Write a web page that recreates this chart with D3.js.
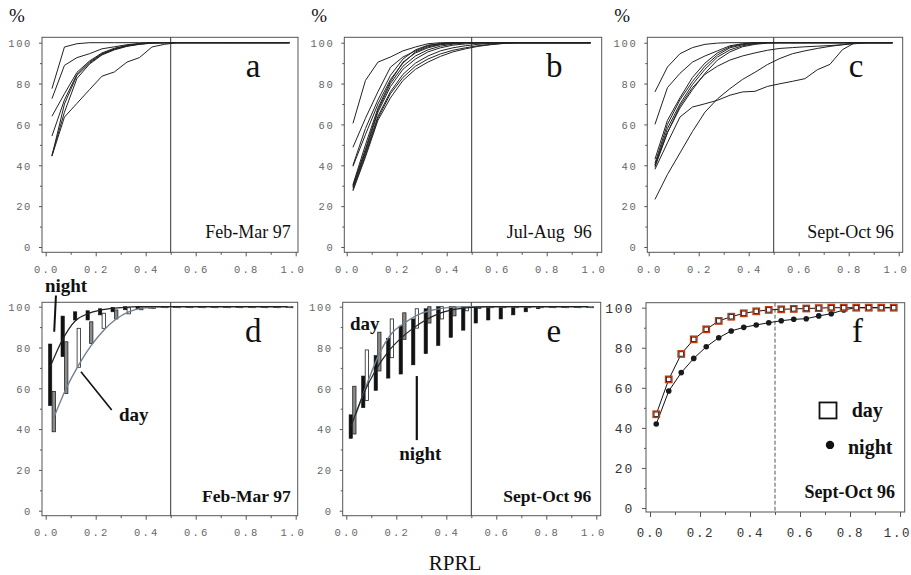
<!DOCTYPE html>
<html><head><meta charset="utf-8">
<script src="https://cdn.jsdelivr.net/npm/d3@7"></script>
<style>body{margin:0;background:#fff}svg{display:block}</style>
</head><body>
<svg id="chart" width="911" height="575"></svg>
<script>
// ---------- data ----------
const bins = [0.025,0.075,0.125,0.175,0.225,0.275,0.325,0.375,0.425,0.475,0.525,0.575,0.625,0.675,0.725,0.775,0.825,0.875,0.925,0.975];
const xTicks = [0,0.2,0.4,0.6,0.8,1.0];
const xMinor = [0.1,0.3,0.5,0.7,0.9];
const yTicks = [0,20,40,60,80,100];
const yMinor = [10,30,50,70,90];

const curvesA = [
 [77.5,97.9,99.5,100,100,100,100,100,100,100,100,100,100,100,100,100,100,100,100,100],
 [72.6,88.9,92.7,94.6,97,98,99,99.6,100,100,100,100,100,100,100,100,100,100,100,100],
 [64,75,85.5,91,95,97.3,98.7,99.5,100,100,100,100,100,100,100,100,100,100,100,100],
 [54.3,72,84.5,90.5,94.6,97,98.5,99.4,100,100,100,100,100,100,100,100,100,100,100,100],
 [44.5,70,84,90,94.3,96.8,98.4,99.3,99.8,100,100,100,100,100,100,100,100,100,100,100],
 [44.5,63.6,70.3,77,83.6,85.7,90.5,92.7,97.9,99.2,100,100,100,100,100,100,100,100,100,100],
 [45,66,82.5,89.5,94,96.5,98.2,99.2,99.8,100,100,100,100,100,100,100,100,100,100,100]
];
const curvesB = [
 [60.5,81.5,90.5,93,96,97.9,99.5,100,100,100,100,100,100,100,100,100,100,100,100,100],
 [48.8,63,76,88,93,96,98.5,99.5,100,100,100,100,100,100,100,100,100,100,100,100],
 [40,58,72,84,92,96.5,98.8,99.6,100,100,100,100,100,100,100,100,100,100,100,100],
 [39.5,55,70,82,90,95.5,98,99.2,99.8,100,100,100,100,100,100,100,100,100,100,100],
 [30.5,50,68,81,90.5,95,97.5,99,99.6,100,100,100,100,100,100,100,100,100,100,100],
 [29.5,47,66,78.5,87,92,95.5,97.5,98.8,99.4,99.8,100,100,100,100,100,100,100,100,100],
 [29,46,64,76,84.5,90,93.5,96,97.5,98.5,99.2,99.7,100,100,100,100,100,100,100,100],
 [28,45,63,75,83,88.5,92,94.5,96.3,97.5,98.5,99.2,99.7,100,100,100,100,100,100,100],
 [27.5,44,62,73,81.5,87,90.5,93.3,95.5,97,98.2,99,99.6,100,100,100,100,100,100,100],
 [30,48,67,80,88.5,93.5,96.5,98.3,99.3,100,100,100,100,100,100,100,100,100,100,100]
];
const curvesC = [
 [75.9,88.1,94.6,97.6,99.2,99.8,100,100,100,100,100,100,100,100,100,100,100,100,100,100],
 [60,78,85,90.5,93.5,96,98.5,99.5,100,100,100,100,100,100,100,100,100,100,100,100],
 [43,62,73,83,90,95,98,99.3,100,100,100,100,100,100,100,100,100,100,100,100],
 [41,60,72,81,88.5,94,97.5,99,99.7,100,100,100,100,100,100,100,100,100,100,100],
 [40,58,70,79.5,87,93,96.5,98.5,99.5,100,100,100,100,100,100,100,100,100,100,100],
 [39,56,68,77,85,91.5,95.5,98,99.2,99.8,100,100,100,100,100,100,100,100,100,100],
 [40,56,69,78,84.5,88.5,91.5,93.5,95,96.3,97.2,97.6,98,98.3,98.6,99,99.5,100,100,100],
 [38,51,63.6,68.5,70.1,71.8,74.3,75.9,76.2,78.6,79.9,81.1,82.4,86.8,89.4,96.6,100,100,100,100],
 [23.3,35.5,46,56.5,66,72.5,77.5,82,85.5,89.3,92.3,94.6,96,97.2,98.2,99,100,100,100,100]
];

// panel d : boxes (low/high) and mean curves
const nightD_low  = [51.5,75.5,93.5,93.5,96,97.5,98.5,99,99.3,99.6,99.6,99.6,99.6,99.6,99.6,99.6,99.6,99.6,99.6,99.6];
const nightD_high = [81.7,95.4,97.5,98,99,99.7,100,100,100,100,100,100,100,100,100,100,100,100,100,100];
const dayD_low    = [38.7,57.5,70.3,82,89.4,94,96.5,98.5,99.2,99.6,99.6,99.6,99.6,99.6,99.6,99.6,99.6,99.6,99.6,99.6];
const dayD_high   = [58.5,82.8,89.4,92.6,96.8,98.4,99.5,100,100,100,100,100,100,100,100,100,100,100,100,100];
const nightD_mean = [70.5,84,93,96.5,98.3,99.2,99.7,100,100,100,100,100,100,100,100,100,100,100,100,100];
const dayD_mean   = [45.5,60,71.5,81,88.5,94,97.5,99.2,99.8,100,100,100,100,100,100,100,100,100,100,100];

// panel e
const nightE_low  = [35.5,50.5,59,65,67,71.5,77,81,85,88.5,92,93.5,94,96,97.5,99,99.5,99.6,99.6,99.6];
const nightE_high = [47,66,76,84.5,90.5,94,99,100,100,100,99.8,99.8,99.8,100,100,100,100,100,100,100];
const dayE_low    = [37.6,54,68.5,75,84,89.5,92,94,95.5,98,99.2,99.5,99.6,99.6,99.6,99.6,99.6,99.6,99.6,99.6];
const dayE_high   = [61,78.8,87.5,94,97,99,100,100,100,100,100,100,100,100,100,100,100,100,100,100];
const nightE_mean = [41,57,69,78,84.5,89.5,93.5,96.5,98.3,99.3,99.8,100,100,100,100,100,100,100,100,100];
const dayE_mean   = [45,62,77,87,92,95.8,98,99.2,99.8,100,100,100,100,100,100,100,100,100,100,100];

// panel f
const dayF   = [46.8,64.2,76.9,84.2,89.2,93.4,95.5,97.2,98.2,98.9,99.2,99.4,99.6,99.8,100,100,100,100,100,100];
const nightF = [41.9,58.4,67.6,74.7,80.5,85,88.4,90.2,91.4,92.5,93.5,94.2,94.5,95.9,97,98.9,100,100,100,100];

const letters = ["a","b","c","d","e","f"];
const periods = ["Feb-Mar 97","Jul-Aug\u00a0\u00a096","Sept-Oct 96","Feb-Mar 97","Sept-Oct 96","Sept-Oct 96"];

// ---------- styles / layout ----------
const dayFillD = ["#8a8a8a","#8a8a8a","#fff","#8a8a8a","#fff","#8a8a8a","#fff","#8a8a8a","#fff","#8a8a8a","#fff","#8a8a8a","#fff","#8a8a8a","#fff","#8a8a8a","#fff","#8a8a8a","#fff","#8a8a8a"];
const dayFillE = ["#8a8a8a","#fff","#8a8a8a","#fff","#8a8a8a","#fff","#8a8a8a","#fff","#8a8a8a","#fff","#8a8a8a","#fff","#8a8a8a","#fff","#8a8a8a","#fff","#8a8a8a","#fff","#8a8a8a","#fff"];
const P = {
 a:{L:42,R:298,T:37.3,B:252.3,x0:45.7,x1:295.7,y0:247,y100:42.7},
 b:{L:344.3,R:601.7,T:37.3,B:252.3,x0:346.7,x1:596.7,y0:247,y100:42.7},
 c:{L:647.3,R:902.7,T:37.3,B:252.3,x0:648.7,x1:898.7,y0:247,y100:42.7},
 d:{L:42,R:297.7,T:302.3,B:515.7,x0:45.7,x1:295.7,y0:510.7,y100:306.7},
 e:{L:342.7,R:600.7,T:302.3,B:515.7,x0:346.3,x1:596.3,y0:510.7,y100:306.7},
 f:{L:646,R:904.7,T:302.7,B:512,x0:650,x1:900,y0:508,y100:307.7}
};

const svg = d3.select("#chart");
const serif = "'Liberation Serif','Times New Roman',serif";
const mono = "'Liberation Mono','DejaVu Sans Mono',monospace";

function panel(key, big) {
  const c = P[key];
  const g = svg.append("g");
  const x = d3.scaleLinear().domain([0,1]).range([c.x0,c.x1]);
  const y = d3.scaleLinear().domain([0,100]).range([c.y0,c.y100]);
  const fs = big ? 12.5 : 10.5;
  const col = big ? "#333" : "#666";
  const ax = g.append("g").attr("transform",`translate(0,${c.B})`)
    .call(d3.axisBottom(x).tickValues(xTicks).tickFormat(d3.format(".1f")).tickSize(big?5:4).tickSizeOuter(0));
  ax.select(".domain").remove();
  ax.selectAll("line").attr("stroke","#555");
  ax.selectAll("text").attr("dy",null).attr("y", big?24.5:20.5)
    .attr("font-family",mono).attr("font-size",fs).attr("fill",col)
    .attr("letter-spacing", big?1.6:2.2).attr("dx", (d)=> d===1 ? -3 : (big?0:0.5));
  const axm = g.append("g").attr("transform",`translate(0,${c.B})`)
    .call(d3.axisBottom(x).tickValues(xMinor).tickFormat("").tickSize(big?3:2.5).tickSizeOuter(0));
  axm.select(".domain").remove(); axm.selectAll("line").attr("stroke","#555");
  const ay = g.append("g").attr("transform",`translate(${c.L},0)`)
    .call(d3.axisLeft(y).tickValues(yTicks).tickFormat(d3.format("d")).tickSize(big?4:3).tickSizeOuter(0).tickPadding(big?8:7));
  ay.select(".domain").remove();
  ay.selectAll("line").attr("stroke","#555");
  ay.selectAll("text").attr("font-family",mono).attr("font-size",big?13:fs).attr("fill",col)
    .attr("letter-spacing", big?1.8:1.6).attr("dy","0.36em");
  const aym = g.append("g").attr("transform",`translate(${c.L},0)`)
    .call(d3.axisLeft(y).tickValues(yMinor).tickFormat("").tickSize(2).tickSizeOuter(0));
  aym.select(".domain").remove(); aym.selectAll("line").attr("stroke","#555");
  g.append("rect").attr("x",c.L).attr("y",c.T).attr("width",c.R-c.L).attr("height",c.B-c.T)
    .attr("fill","none").attr("stroke","#555").attr("stroke-width",1);
  return {g,x,y,c};
}

function refLine(p, dashed) {
  p.g.append("line").attr("x1",p.x(0.5)).attr("x2",p.x(0.5)).attr("y1",p.c.T).attr("y2",p.c.B)
    .attr("stroke", dashed ? "#555" : "#333").attr("stroke-width",1)
    .attr("stroke-dasharray", dashed ? "4,2" : null);
}

function labels(p, i, boldDate, dateSize) {
  p.g.append("text").attr("x",p.x(0.83)).attr("y",p.c.T+39.5).attr("text-anchor","middle")
    .attr("font-family",serif).attr("font-size",33).attr("fill","#111").text(letters[i]);
  p.g.append("text").attr("x",p.x(0.98)).attr("y",p.c.B-14)
    .attr("text-anchor","end").attr("font-family",serif).attr("font-size",dateSize)
    .attr("font-weight",boldDate?"bold":"normal").attr("fill","#111").text(periods[i]);
}

const line = (p, dx=0) => d3.line().x((d,i)=>p.x(bins[i])+dx).y(d=>p.y(d));

// ---- top row ----
[["a",curvesA],["b",curvesB],["c",curvesC]].forEach(([k,curves],i)=>{
  const p = panel(k,false);
  refLine(p,false);
  p.g.append("g").selectAll("path").data(curves).join("path")
    .attr("d", line(p)).attr("fill","none").attr("stroke","#222").attr("stroke-width",1);
  labels(p,i,false,18);
  svg.append("text").attr("x",p.c.L-33).attr("y",22).attr("font-family",serif)
    .attr("font-size",19).attr("fill","#111").text("%");
});

// ---- bottom row boxes ----
function boxPanel(k, i, nLow, nHigh, dLow, dHigh, nMean, dMean, fills) {
  const p = panel(k,false);
  refLine(p,false);
  const w = 3.3;
  const gb = p.g.append("g");
  gb.selectAll("rect.n").data(bins).join("rect").attr("class","n")
    .attr("x",(d)=>p.x(d)-1.8-w/2).attr("width",w)
    .attr("y",(d,j)=>p.y(nHigh[j])).attr("height",(d,j)=>Math.max(1,p.y(nLow[j])-p.y(nHigh[j])))
    .attr("fill","#111").attr("stroke","#111").attr("stroke-width",0.6);
  gb.selectAll("rect.d").data(bins).join("rect").attr("class","d")
    .attr("x",(d)=>p.x(d)+1.8-w/2).attr("width",w)
    .attr("y",(d,j)=>p.y(dHigh[j])).attr("height",(d,j)=>Math.max(1,p.y(dLow[j])-p.y(dHigh[j])))
    .attr("fill",(d,j)=> fills[j]).attr("stroke","#222").attr("stroke-width",0.8);
  p.g.append("path").datum(dMean).attr("d", line(p,1.8).curve(d3.curveMonotoneX))
    .attr("fill","none").attr("stroke","#6f8190").attr("stroke-width",1.4);
  p.g.append("path").datum(nMean).attr("d", line(p,-1.8).curve(d3.curveMonotoneX))
    .attr("fill","none").attr("stroke","#222").attr("stroke-width",1.2);
  labels(p,i,true,17.5);
  return p;
}
const pd = boxPanel("d",3,nightD_low,nightD_high,dayD_low,dayD_high,nightD_mean,dayD_mean,dayFillD);
const pe = boxPanel("e",4,nightE_low,nightE_high,dayE_low,dayE_high,nightE_mean,dayE_mean,dayFillE);

function ann(p, txt, xv, yv, anchor) {
  p.g.append("text").attr("x",p.x(xv)).attr("y",p.y(yv)).attr("text-anchor",anchor||"start")
    .attr("font-family",serif).attr("font-size",19).attr("font-weight","bold").attr("fill","#111").text(txt);
}
function pointer(p, x1,y1,x2,y2,w) {
  p.g.append("line").attr("x1",p.x(x1)).attr("y1",p.y(y1)).attr("x2",p.x(x2)).attr("y2",p.y(y2))
    .attr("stroke","#111").attr("stroke-width",w||2);
}
ann(pd,"night",-0.003,107.2);
pointer(pd,0.041,105.5,0.034,87.7,2);
ann(pd,"day",0.293,44);
pointer(pd,0.141,68.1,0.264,49.4,1.6);
ann(pe,"day",0.015,88.6);
ann(pe,"night",0.296,24.9,"middle");
pointer(pe,0.282,66,0.282,34.6,2.2);

// ---- panel f ----
const pf = panel("f",true);
refLine(pf,true);
pf.g.append("path").datum(dayF).attr("d",line(pf)).attr("fill","none").attr("stroke","#111").attr("stroke-width",1);
pf.g.append("path").datum(nightF).attr("d",line(pf)).attr("fill","none").attr("stroke","#111").attr("stroke-width",1);
pf.g.selectAll("circle.nf").data(nightF).join("circle").attr("class","nf")
  .attr("cx",(d,i)=>pf.x(bins[i])).attr("cy",d=>pf.y(d)).attr("r",2.8).attr("fill","#1a1a1a");
pf.g.selectAll("rect.sq").data(dayF).join("rect").attr("class","sq")
  .attr("x",(d,i)=>pf.x(bins[i])-3.2).attr("y",d=>pf.y(d)-3.2).attr("width",6.4).attr("height",6.4)
  .attr("fill","#fff").attr("stroke","#c23a12").attr("stroke-width",1.4);
pf.g.selectAll("rect.sqi").data(dayF).join("rect").attr("class","sqi")
  .attr("x",(d,i)=>pf.x(bins[i])-2.2).attr("y",d=>pf.y(d)-2.2).attr("width",4.4).attr("height",4.4)
  .attr("fill","none").attr("stroke","#111").attr("stroke-width",0.8);
labels(pf,5,true,18);
pf.g.append("rect").attr("x",pf.x(0.712)-8.5).attr("y",pf.y(48.7)-8).attr("width",17).attr("height",16)
  .attr("fill","#fff").attr("stroke","#111").attr("stroke-width",1.8);
pf.g.append("text").attr("x",pf.x(0.807)).attr("y",pf.y(45.6)).attr("font-family",serif)
  .attr("font-size",20).attr("font-weight","bold").attr("fill","#111").text("day");
pf.g.append("circle").attr("cx",pf.x(0.72)).attr("cy",pf.y(31.5)).attr("r",4.2).attr("fill","#111");
pf.g.append("text").attr("x",pf.x(0.792)).attr("y",pf.y(26.8)).attr("font-family",serif)
  .attr("font-size",20).attr("font-weight","bold").attr("fill","#111").text("night");

svg.append("text").attr("x",455).attr("y",570).attr("text-anchor","middle").attr("font-family",serif)
  .attr("font-size",21).attr("fill","#111").text("RPRL");
</script>
</body></html>
